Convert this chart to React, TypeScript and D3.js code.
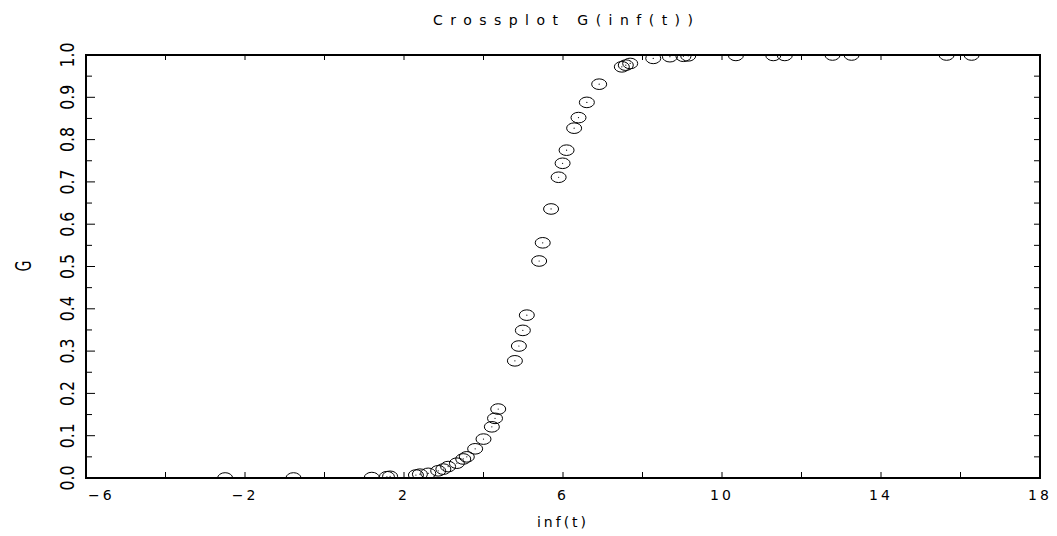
import React from "react";
import * as d3 from "d3";

const title = "Crossplot G(inf(t))";
const xLabel = "inf(t)";
const yLabel = "G";

const xValues = [
  -2.5, -0.78, 1.19, 1.57, 1.65, 2.3, 2.4, 2.61, 2.86, 2.99, 3.11, 3.33, 3.49, 3.58, 3.79, 4.0,
  4.21, 4.29, 4.37, 4.79, 4.89, 4.99, 5.09, 5.4, 5.49, 5.7, 5.89, 5.99, 6.09, 6.28, 6.39, 6.6,
  6.91, 7.48, 7.58, 7.69, 8.27, 8.69, 9.03, 9.15, 10.35, 11.29, 11.58, 12.78, 13.26, 15.65, 16.28,
];
const gValues = [
  0.0, 0.0, 0.001, 0.003, 0.004, 0.007, 0.009, 0.011, 0.017, 0.021, 0.027, 0.035, 0.045, 0.05,
  0.069, 0.092, 0.121, 0.141, 0.163, 0.277, 0.312, 0.349, 0.385, 0.513, 0.556, 0.636, 0.711,
  0.744, 0.775, 0.827, 0.852, 0.888, 0.931, 0.972, 0.976, 0.98, 0.992, 0.996, 0.997, 0.998,
  0.999, 0.999, 0.999, 1.0, 1.0, 1.0, 1.0,
];

const xTickLabels = [-6, -2, 2, 6, 10, 14, 18];
const xMinorTicks = [-6, -4, -2, 0, 2, 4, 6, 8, 10, 12, 14, 16, 18];
const yTickLabels = [0.0, 0.1, 0.2, 0.3, 0.4, 0.5, 0.6, 0.7, 0.8, 0.9, 1.0];
const yMinorTicks = [0.05, 0.15, 0.25, 0.35, 0.45, 0.55, 0.65, 0.75, 0.85, 0.95];

const W = 1057;
const H = 536;
const left = 86;
const right = 1040;
const top = 55;
const bottom = 478;
const font = "'DejaVu Sans', sans-serif";

export default function App() {
  const x = d3.scaleLinear().domain([-6, 18]).range([left, right]);
  const y = d3.scaleLinear().domain([0, 1]).range([bottom, top]);
  const fmtX = (v: number) => (v < 0 ? "\u2212" + Math.abs(v) : String(v));

  return (
    <svg
      width={W}
      height={H}
      style={{ position: "absolute", left: 0, top: 0, background: "#fff" }}
    >
      <defs>
        <clipPath id="plotClip">
          <rect x={left} y={top} width={right - left} height={bottom - top} />
        </clipPath>
      </defs>

      <text
        x={433}
        y={25}
        fontFamily={font}
        fontSize={14}
        textLength={260}
        lengthAdjust="spacing"
        fill="#000"
      >
        {title}
      </text>

      {/* points */}
      <g clipPath="url(#plotClip)">
        {xValues.map((xv, i) => (
          <g key={i}>
            <ellipse
              cx={x(xv)}
              cy={y(gValues[i])}
              rx={7.5}
              ry={5.3}
              fill="none"
              stroke="#000"
              strokeWidth={1}
            />
            <circle cx={x(xv)} cy={y(gValues[i])} r={0.6} fill="#000" />
          </g>
        ))}
      </g>

      {/* frame */}
      <rect
        x={left}
        y={top}
        width={right - left}
        height={bottom - top}
        fill="none"
        stroke="#000"
        strokeWidth={2}
      />

      {/* x ticks bottom and top */}
      {xMinorTicks.map((t) => (
        <g key={"xt" + t}>
          <line x1={x(t)} x2={x(t)} y1={bottom} y2={bottom - 6} stroke="#000" strokeWidth={1} />
          <line x1={x(t)} x2={x(t)} y1={top} y2={top + 5} stroke="#000" strokeWidth={1} />
        </g>
      ))}
      {xTickLabels.map((t, i) => (
        <text
          key={"xl" + t}
          x={i === 0 ? x(t) + 2 : x(t)}
          y={500}
          textAnchor={i === 0 ? "start" : "middle"}
          fontFamily={font}
          fontSize={14}
          letterSpacing={3}
          fill="#000"
        >
          {fmtX(t)}
        </text>
      ))}
      <text
        x={(left + right) / 2}
        y={527}
        textAnchor="middle"
        fontFamily={font}
        fontSize={14}
        letterSpacing={3}
        fill="#000"
      >
        {xLabel}
      </text>

      {/* y ticks */}
      {yTickLabels.map((t) => (
        <g key={"yt" + t}>
          <line x1={left} x2={left + 9} y1={y(t)} y2={y(t)} stroke="#000" strokeWidth={1} />
          <line x1={right} x2={right - 6} y1={y(t)} y2={y(t)} stroke="#000" strokeWidth={1} />
        </g>
      ))}
      {yMinorTicks.map((t) => (
        <g key={"ym" + t}>
          <line x1={left} x2={left + 6} y1={y(t)} y2={y(t)} stroke="#000" strokeWidth={1} />
          <line x1={right} x2={right - 6} y1={y(t)} y2={y(t)} stroke="#000" strokeWidth={1} />
        </g>
      ))}
      {yTickLabels.map((t) => (
        <text
          key={"yl" + t}
          transform={`translate(74,${y(t)}) rotate(-90)`}
          textAnchor="middle"
          fontFamily={font}
          fontSize={20}
          textLength={25}
          lengthAdjust="spacingAndGlyphs"
          fill="#000"
        >
          {t.toFixed(1)}
        </text>
      ))}
      <text
        transform={`translate(31,266) rotate(-90)`}
        textAnchor="middle"
        fontFamily={font}
        fontSize={22}
        textLength={11}
        lengthAdjust="spacingAndGlyphs"
        fill="#000"
      >
        {yLabel}
      </text>
    </svg>
  );
}
